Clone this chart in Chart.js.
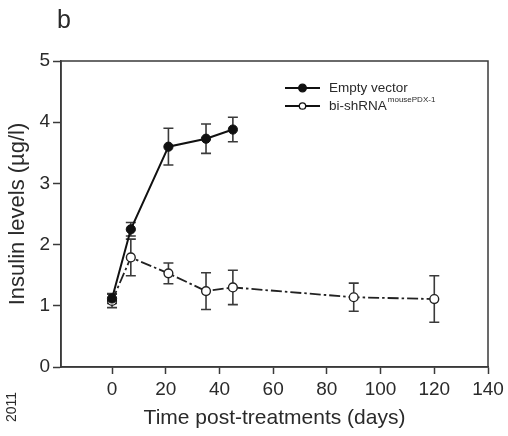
<!DOCTYPE html>
<html>
<head>
<meta charset="utf-8">
<script src="https://cdn.jsdelivr.net/npm/chart.js@4.4.1/dist/chart.umd.min.js"></script>
<style>
    html, body { margin: 0; padding: 0; background: #fff; }
    #wrap { position: relative; width: 508px; height: 436px; }
</style>
</head>
<body>
<div id="wrap"><canvas id="insulinChart"></canvas></div>
<script>
// Data
const vectorDays = [0, 7, 21, 35, 45];
const vectorLevels = [1.12, 2.25, 3.6, 3.73, 3.88];
const vectorErrors = [0.08, 0.11, 0.3, 0.24, 0.2];

const shrnaDays = [0, 7, 21, 35, 45, 90, 120];
const shrnaLevels = [1.08, 1.79, 1.53, 1.24, 1.30, 1.14, 1.11];
const shrnaErrors = [0.11, 0.3, 0.17, 0.3, 0.28, 0.23, 0.38];

const xTickValues = [0, 20, 40, 60, 80, 100, 120, 140];
const yTickValues = [0, 1, 2, 3, 4, 5];

const textColor = '#2a2a2a';
const axisColor = '#3a3a3a';
const fontFamily = '"Liberation Sans", Arial, sans-serif';

function toPoints(xs, ys, errs) {
    return xs.map((x, i) => ({ x: x, y: ys[i], err: errs[i] }));
}

// Error bars, drawn under the markers
const errorBars = {
    id: 'errorBars',
    beforeDatasetsDraw(chart) {
        const ctx = chart.ctx;
        const xs = chart.scales.x, ys = chart.scales.y;
        ctx.save();
        ctx.strokeStyle = axisColor;
        ctx.lineWidth = 1.6;
        chart.data.datasets.forEach(ds => {
            ds.data.forEach(p => {
                const px = xs.getPixelForValue(p.x);
                const top = ys.getPixelForValue(p.y + p.err);
                const bot = ys.getPixelForValue(p.y - p.err);
                ctx.beginPath();
                ctx.moveTo(px, top); ctx.lineTo(px, bot);
                ctx.moveTo(px - 5, top); ctx.lineTo(px + 5, top);
                ctx.moveTo(px - 5, bot); ctx.lineTo(px + 5, bot);
                ctx.stroke();
            });
        });
        ctx.restore();
    }
};

// Box round the plot, legend and the loose text of the figure
const decorations = {
    id: 'decorations',
    afterDraw(chart) {
        const ctx = chart.ctx;
        const a = chart.chartArea;
        ctx.save();
        ctx.strokeStyle = axisColor;
        ctx.lineWidth = 1.5;
        ctx.strokeRect(a.left, a.top, a.right - a.left, a.bottom - a.top);

        // legend
        const sets = chart.data.datasets;
        const rows = [88, 106];
        rows.forEach((y, i) => {
            ctx.strokeStyle = '#111';
            ctx.lineWidth = 1.8;
            ctx.setLineDash([]);
            ctx.beginPath();
            ctx.moveTo(285, y); ctx.lineTo(320, y);
            ctx.stroke();
            ctx.beginPath();
            ctx.arc(302.5, y, i === 0 ? 3.8 : 3.2, 0, Math.PI * 2);
            ctx.fillStyle = i === 0 ? '#111' : '#fff';
            ctx.fill();
            ctx.lineWidth = 1.3;
            ctx.stroke();
        });
        ctx.fillStyle = textColor;
        ctx.textBaseline = 'middle';
        ctx.textAlign = 'left';
        ctx.font = '13.5px ' + fontFamily;
        ctx.fillText(sets[0].label, 329, rows[0]);
        ctx.fillText(sets[1].label, 329, rows[1]);
        const w = ctx.measureText(sets[1].label).width;
        ctx.font = '8px ' + fontFamily;
        ctx.fillText('mousePDX-1', 329 + w + 1, rows[1] - 6);

        // panel letter
        ctx.font = '25px ' + fontFamily;
        ctx.textBaseline = 'alphabetic';
        ctx.fillText('b', 57, 28);

        // rotated year at the bottom left
        ctx.translate(12, 407);
        ctx.rotate(-Math.PI / 2);
        ctx.font = '14px ' + fontFamily;
        ctx.textAlign = 'center';
        ctx.textBaseline = 'middle';
        ctx.fillText('2011', 0, 0);
        ctx.restore();
    }
};

const ctx = document.getElementById('insulinChart').getContext('2d');
new Chart(ctx, {
    type: 'line',
    data: {
        datasets: [
            {
                label: 'Empty vector',
                data: toPoints(vectorDays, vectorLevels, vectorErrors),
                borderColor: '#111',
                backgroundColor: '#111',
                borderWidth: 2,
                pointRadius: 4.6,
                pointBorderWidth: 1,
                pointBackgroundColor: '#111',
                tension: 0
            },
            {
                label: 'bi-shRNA',
                data: toPoints(shrnaDays, shrnaLevels, shrnaErrors),
                borderColor: '#222',
                backgroundColor: '#fff',
                borderWidth: 1.8,
                borderDash: [11, 3, 2.5, 3],
                pointRadius: 4.4,
                pointBorderWidth: 1.4,
                pointBackgroundColor: '#fff',
                pointBorderColor: '#222',
                tension: 0
            }
        ]
    },
    options: {
        responsive: true,
        maintainAspectRatio: false,
        animation: false,
        layout: { padding: { top: 61, right: 20, left: 0, bottom: 0 } },
        plugins: {
            legend: { display: false },
            tooltip: { enabled: false }
        },
        scales: {
            x: {
                type: 'linear',
                min: -19,
                max: 140,
                afterBuildTicks: scale => { scale.ticks = xTickValues.map(v => ({ value: v })); },
                afterFit: scale => { scale.height = 69; },
                grid: { drawOnChartArea: false, tickLength: 7, tickColor: axisColor, tickWidth: 1.5 },
                border: { color: axisColor, width: 1.5 },
                ticks: {
                    color: textColor,
                    padding: 4,
                    maxRotation: 0,
                    font: { family: fontFamily, size: 19 }
                },
                title: {
                    display: true,
                    text: 'Time post-treatments (days)',
                    color: textColor,
                    padding: { top: 0, bottom: 5 },
                    font: { family: fontFamily, size: 21 }
                }
            },
            y: {
                min: 0,
                max: 5,
                afterBuildTicks: scale => { scale.ticks = yTickValues.map(v => ({ value: v })); },
                afterFit: scale => { scale.width = 61; },
                grid: { drawOnChartArea: false, tickLength: 8, tickColor: axisColor, tickWidth: 1.5 },
                border: { color: axisColor, width: 1.5 },
                ticks: {
                    color: textColor,
                    padding: 3,
                    font: { family: fontFamily, size: 19 }
                },
                title: {
                    display: true,
                    text: 'Insulin levels (µg/l)',
                    color: textColor,
                    padding: { top: 5, bottom: 0 },
                    font: { family: fontFamily, size: 22 }
                }
            }
        }
    },
    plugins: [errorBars, decorations]
});
</script>
</body>
</html>
